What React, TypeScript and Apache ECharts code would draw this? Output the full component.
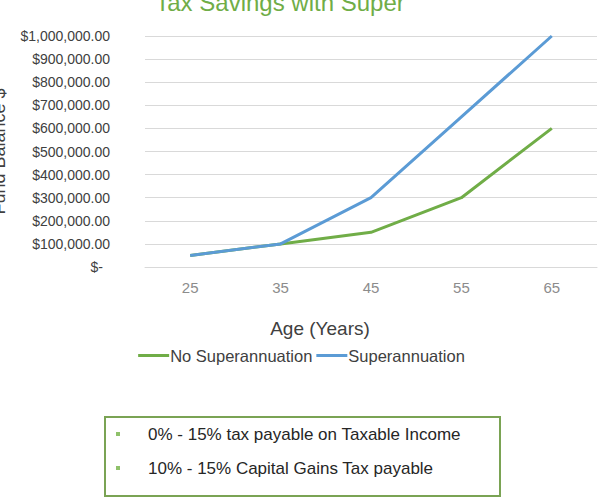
import React, { useRef, useEffect } from 'react';
import * as echarts from 'echarts';

const ages = ['25', '35', '45', '55', '65'];
const noSuper = [50000, 100000, 150000, 300000, 600000];
const withSuper = [50000, 100000, 300000, 650000, 1000000];
const bullets = [
  '0% - 15% tax payable on Taxable Income',
  '10% - 15% Capital Gains Tax payable',
];

const FONT = '"Liberation Sans", Arial, sans-serif';
const GREEN = '#70ad47';
const BLUE = '#5b9bd5';

const fmt = (v: number) => {
  if (v === 0) return '{dash|$-}';
  return '$' + v.toLocaleString('en-US', { minimumFractionDigits: 2, maximumFractionDigits: 2 });
};

const App: React.FC = () => {
  const chartRef = useRef<HTMLDivElement>(null);

  useEffect(() => {
    if (!chartRef.current) return;
    const chart = echarts.init(chartRef.current, undefined, { renderer: 'svg' });

    const option: echarts.EChartsOption = {
      animation: false,
      textStyle: { fontFamily: FONT },
      title: {
        text: 'Tax Savings with Super',
        left: 275,
        textAlign: 'center',
        top: -15,
        textStyle: { color: GREEN, fontSize: 24, fontWeight: 'normal', fontFamily: FONT },
      },
      grid: { left: 145, right: 6, top: 36, bottom: 234, outerBoundsMode: 'none' } as any,
      legend: {
        top: 342,
        left: 'center',
        itemWidth: 31,
        itemHeight: 3,
        itemGap: 4,
        icon: 'rect',
        textStyle: { fontSize: 16.5, color: '#404040', fontFamily: FONT, padding: [0, 0, 0, -4] },
        data: ['No Superannuation', 'Superannuation'],
      },
      xAxis: {
        type: 'category',
        data: ages,
        boundaryGap: true,
        name: 'Age (Years)',
        nameLocation: 'middle',
        nameGap: 52,
        nameTextStyle: { fontSize: 19, color: '#404040', fontFamily: FONT, padding: [0, 102, 0, 0] },
        axisLine: { show: true, lineStyle: { color: '#d9d9d9' } },
        axisTick: { show: false },
        axisLabel: { color: '#8c8c8c', fontSize: 15, margin: 13, fontFamily: FONT },
      },
      yAxis: {
        type: 'value',
        min: 0,
        max: 1000000,
        interval: 100000,
        name: 'Fund Balance $',
        nameLocation: 'middle',
        nameGap: 137,
        nameRotate: 90,
        nameTextStyle: { fontSize: 18, color: '#404040', fontFamily: FONT },
        axisLine: { show: false },
        axisTick: { show: false },
        splitLine: { lineStyle: { color: '#d9d9d9' } },
        axisLabel: {
          color: '#404040',
          fontSize: 14,
          margin: 35,
          fontFamily: FONT,
          formatter: fmt,
          rich: { dash: { fontSize: 14, color: '#404040', padding: [0, 7, 0, 0], fontFamily: FONT } },
        },
      },
      series: [
        {
          name: 'No Superannuation',
          type: 'line',
          data: noSuper,
          symbol: 'none',
          lineStyle: { color: GREEN, width: 3 },
          itemStyle: { color: GREEN },
        },
        {
          name: 'Superannuation',
          type: 'line',
          data: withSuper,
          symbol: 'none',
          lineStyle: { color: BLUE, width: 3 },
          itemStyle: { color: BLUE },
        },
      ],
      graphic: [
        {
          type: 'rect',
          shape: { x: 105, y: 417, width: 395, height: 79 },
          style: { fill: '#fff', stroke: '#7aa354', lineWidth: 2 },
        },
        ...bullets.flatMap((t, i) => [
          {
            type: 'rect',
            shape: { x: 116, y: 432 + i * 34, width: 4, height: 4 },
            style: { fill: '#8fc16a' },
          },
          {
            type: 'text',
            x: 148,
            y: 434 + i * 34,
            style: {
              text: t,
              fill: '#262626',
              font: `17px ${FONT}`,
              textVerticalAlign: 'middle',
            },
          },
        ]),
      ] as any,
    };

    chart.setOption(option);
    return () => chart.dispose();
  }, []);

  return (
    <div
      ref={chartRef}
      style={{ position: 'fixed', left: 0, top: 0, width: 603, height: 501, background: '#fff' }}
    />
  );
};

export default App;
